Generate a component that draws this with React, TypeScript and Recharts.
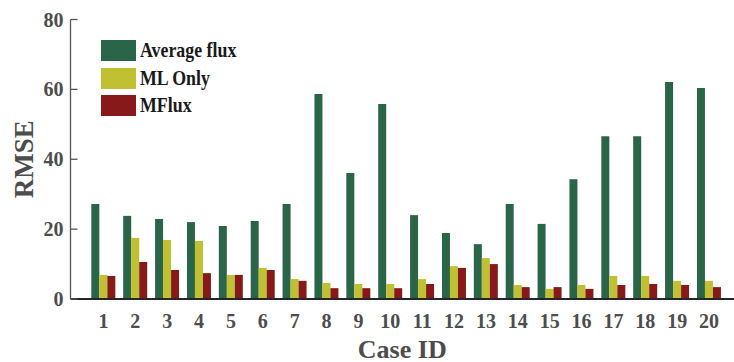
import React from 'react';
import { BarChart, Bar, XAxis, YAxis, Legend, Label } from 'recharts';

const caseIds = ['1', '2', '3', '4', '5', '6', '7', '8', '9', '10', '11', '12', '13', '14', '15', '16', '17', '18', '19', '20'];
const avgFlux = [27.2, 23.8, 22.9, 22.0, 20.9, 22.3, 27.2, 58.7, 36.1, 55.8, 24.0, 18.9, 15.7, 27.2, 21.5, 34.3, 46.6, 46.6, 62.1, 60.4];
const mlOnly = [6.9, 17.5, 16.9, 16.6, 6.9, 8.9, 5.7, 4.6, 4.3, 4.3, 5.7, 9.4, 11.7, 4.0, 2.9, 4.0, 6.6, 6.6, 5.2, 5.2];
const mFlux = [6.6, 10.6, 8.3, 7.4, 6.9, 8.3, 5.2, 3.1, 3.1, 3.1, 4.3, 8.9, 10.0, 3.4, 3.4, 2.9, 4.0, 4.3, 4.0, 3.4];
const yTicks = [0, 20, 40, 60, 80];

const series = [
  { key: 'avg', name: 'Average flux', color: '#2a6449' },
  { key: 'ml', name: 'ML Only', color: '#c0c033' },
  { key: 'mflux', name: 'MFlux', color: '#88191b' },
];

const data = caseIds.map((id, i) => ({ id, avg: avgFlux[i], ml: mlOnly[i], mflux: mFlux[i] }));

const font = '"Liberation Serif", "Times New Roman", serif';
const tickStyle = { fill: '#4d4d4d', fontSize: 20, fontWeight: 'bold', fontFamily: font };

const LegendBox = () => (
  <div style={{ fontFamily: font }}>
    {series.map((s) => (
      <div key={s.key} style={{ display: 'flex', alignItems: 'center', height: 21, marginBottom: 6.5 }}>
        <div style={{ width: 35, height: 21, background: s.color }} />
        <span
          style={{
            marginLeft: 4,
            fontSize: 21.5,
            fontWeight: 'bold',
            color: '#1a1a1a',
            display: 'inline-block',
            transform: 'scaleX(0.83)',
            transformOrigin: 'left center',
            whiteSpace: 'nowrap',
            lineHeight: '21px',
          }}
        >
          {s.name}
        </span>
      </div>
    ))}
  </div>
);

const YLabel = (props: any) => {
  const vb = props.viewBox;
  const x = vb.x + 33;
  const y = vb.y + vb.height / 2;
  return (
    <text
      x={x}
      y={y}
      transform={`rotate(-90, ${x}, ${y})`}
      textAnchor="middle"
      fill="#4d4d4d"
      fontSize={27}
      fontWeight="bold"
      fontFamily={font}
    >
      RMSE
    </text>
  );
};

export default function App() {
  return (
    <div style={{ position: 'absolute', left: 0, top: 0, background: '#fff' }}>
      <BarChart
        width={734}
        height={362}
        data={data}
        margin={{ top: 19.5, right: 0, bottom: 0, left: 0 }}
        barGap={0}
        barCategoryGap="12%"
        style={{ fontFamily: font }}
      >
        <XAxis
          dataKey="id"
          height={63}
          padding={{ left: 17, right: 9 }}
          axisLine={{ stroke: '#262626', strokeWidth: 2 }}
          tickLine={false}
          tickSize={0}
          tickMargin={15}
          interval={0}
          tick={tickStyle}
        >
          <Label
            value="Case ID"
            position="insideBottom"
            offset={4}
            fill="#4d4d4d"
            fontSize={26}
            fontWeight="bold"
            fontFamily={font}
          />
        </XAxis>
        <YAxis
          width={70.5}
          domain={[0, 80]}
          ticks={yTicks}
          axisLine={{ stroke: '#555555', strokeWidth: 1.3 }}
          tickLine={{ stroke: '#555555', strokeWidth: 1.3 }}
          tickSize={-7}
          tickMargin={14}
          tick={tickStyle}
        >
          <Label content={<YLabel />} position="insideLeft" />
        </YAxis>
        <Legend
          content={<LegendBox />}
          layout="vertical"
          align="center"
          verticalAlign="middle"
          wrapperStyle={{ left: 100.7, top: 40, width: 220, height: 90 }}
        />
        {series.map((s) => (
          <Bar key={s.key} dataKey={s.key} name={s.name} fill={s.color} isAnimationActive={false} />
        ))}
      </BarChart>
    </div>
  );
}
